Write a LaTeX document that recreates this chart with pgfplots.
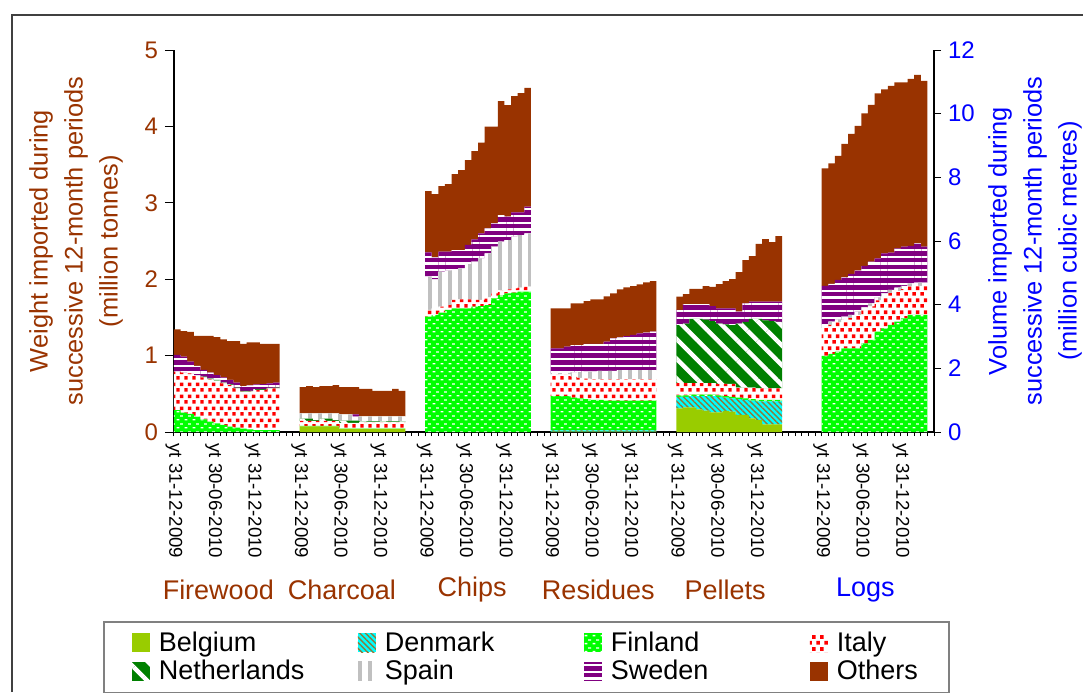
\documentclass[border=0pt]{standalone}
\usepackage{fontspec}
\setmainfont{Liberation Sans}
\usepackage{pgfplots}
\usepackage{pgfplotstable}
\pgfplotsset{compat=1.18}
\usetikzlibrary{patterns, patterns.meta}

\definecolor{cbel}{HTML}{99CC00}
\definecolor{cden}{HTML}{00FFFF}
\definecolor{cdenl}{HTML}{8C7A3A}
\definecolor{cfin}{HTML}{00FF00}
\definecolor{cita}{HTML}{FF0000}
\definecolor{cnet}{HTML}{008000}
\definecolor{cspa}{HTML}{C0C0C0}
\definecolor{cswe}{HTML}{800080}
\definecolor{coth}{HTML}{993300}
\definecolor{cblue}{HTML}{0000FF}

\pgfdeclarepatternformonly{finbricks}{\pgfpointorigin}{\pgfqpoint{4pt}{4pt}}{\pgfqpoint{4pt}{4pt}}{%
  \pgfpathrectangle{\pgfqpoint{0.3pt}{0.4pt}}{\pgfqpoint{1.6pt}{0.7pt}}%
  \pgfpathrectangle{\pgfqpoint{2.3pt}{2.4pt}}{\pgfqpoint{1.6pt}{0.7pt}}%
  \pgfusepath{fill}}
\pgfdeclarepatternformonly{itasquares}{\pgfpointorigin}{\pgfqpoint{4pt}{6pt}}{\pgfqpoint{4pt}{6pt}}{%
  \pgfpathrectangle{\pgfqpoint{0.2pt}{0.2pt}}{\pgfqpoint{1.9pt}{1.9pt}}%
  \pgfpathrectangle{\pgfqpoint{2.2pt}{3.2pt}}{\pgfqpoint{1.9pt}{1.9pt}}%
  \pgfusepath{fill}}

\pgfplotsset{
  sbel/.style={fill=cbel, draw=none},
  sden/.style={fill=cden, draw=none, postaction={pattern={Lines[angle=-45,distance=2pt,line width=0.7pt]}, pattern color=cdenl}},
  sfin/.style={fill=cfin, draw=none, postaction={pattern=finbricks, pattern color=white}},
  sita/.style={fill=white, draw=none, postaction={pattern=itasquares, pattern color=cita}},
  snet/.style={fill=cnet, draw=none, postaction={pattern={Lines[angle=-45,distance=7pt,line width=2.2pt]}, pattern color=white}},
  sspa/.style={fill=white, draw=none, postaction={pattern={Lines[angle=90,distance=5pt,line width=1.7pt]}, pattern color=cspa}},
  sswe/.style={fill=cswe, draw=none, postaction={pattern={Lines[angle=0,distance=3.4pt,line width=1.1pt]}, pattern color=white}},
  soth/.style={fill=coth, draw=none},
}

% weight, million tonnes: Firewood, Charcoal, Chips, Residues, Pellets
\pgfplotstableread{
x    bel   den   fin   ita   net   spa   swe   oth
0.5  0     0     0.288 0.502 0     0     0.218 0.336
1.5  0     0     0.253 0.524 0     0     0.209 0.336
2.5  0     0     0.236 0.532 0     0     0.153 0.388
3.5  0     0     0.201 0.541 0     0     0.122 0.393
4.5  0     0     0.166 0.549 0.01  0     0.087 0.445
5.5  0     0     0.135 0.554 0.01  0     0.078 0.480
6.5  0     0     0.113 0.559 0.01  0     0.064 0.497
7.5  0     0     0.092 0.545 0.01  0     0.068 0.498
8.5  0     0     0.070 0.545 0.01  0     0.056 0.510
9.5  0     0     0.057 0.515 0.01  0     0.064 0.545
10.5 0     0     0.044 0.484 0.01  0     0.064 0.550
11.5 0     0     0.035 0.493 0.01  0     0.073 0.563
12.5 0     0     0.026 0.524 0.01  0     0.064 0.550
13.5 0     0     0.026 0.524 0.01  0     0.068 0.524
14.5 0     0     0.026 0.541 0.01  0     0.060 0.515
15.5 0     0     0.026 0.546 0.01  0     0.064 0.506
19.5 0.075 0     0.005 0.065 0.03  0.069 0     0.345
20.5 0.075 0     0.005 0.065 0.03  0.069 0     0.358
21.5 0.075 0     0.005 0.065 0.01  0.089 0     0.345
22.5 0.075 0     0.005 0.065 0.03  0.069 0     0.358
23.5 0.075 0     0.005 0.065 0.03  0.069 0     0.358
24.5 0.075 0     0.005 0.065 0.01  0.089 0     0.371
25.5 0.04  0     0.005 0.075 0.03  0.08  0     0.359
26.5 0.04  0     0.005 0.075 0.03  0.08  0     0.359
27.5 0.04  0     0.005 0.075 0.03  0.05  0.03  0.359
28.5 0.04  0     0.005 0.085 0.01  0.065 0     0.358
29.5 0.04  0     0.005 0.085 0.01  0.065 0     0.358
30.5 0.04  0     0.005 0.085 0.01  0.065 0     0.332
31.5 0.04  0     0.005 0.085 0.01  0.065 0     0.332
32.5 0.04  0     0.005 0.085 0.01  0.065 0     0.332
33.5 0.04  0     0.005 0.085 0.01  0.065 0     0.358
34.5 0.04  0     0.005 0.085 0.01  0.065 0     0.332
38.5 0     0     1.509 0.088 0     0.436 0.319 0.802
39.5 0     0     1.531 0.088 0     0.379 0.288 0.829
40.5 0     0     1.562 0.078 0     0.458 0.262 0.860
41.5 0     0     1.597 0.065 0     0.450 0.248 0.886
42.5 0     0     1.619 0.109 0     0.392 0.262 0.995
43.5 0     0     1.619 0.117 0     0.406 0.240 1.047
44.5 0     0     1.619 0.117 0     0.463 0.249 1.112
45.5 0     0     1.640 0.088 0     0.501 0.293 1.156
46.5 0     0     1.649 0.079 0     0.545 0.327 1.187
47.5 0     0     1.662 0.101 0     0.575 0.328 1.330
48.5 0     0     1.750 0.065 0     0.611 0.305 1.265
49.5 0     0     1.793 0.065 0     0.633 0.349 1.492
50.5 0     0     1.815 0.052 0     0.646 0.305 1.462
51.5 0     0     1.824 0.056 0     0.677 0.318 1.523
52.5 0     0     1.837 0.052 0     0.689 0.297 1.562
53.5 0     0     1.837 0.065 0     0.698 0.349 1.554
57.5 0.005 0.015 0.451 0.284 0     0.015 0.325 0.523
58.5 0.005 0.015 0.451 0.284 0     0.015 0.325 0.523
59.5 0.005 0.015 0.451 0.284 0     0.020 0.342 0.501
60.5 0.005 0.015 0.43  0.27  0     0.06  0.358 0.546
61.5 0.005 0.015 0.42  0.27  0     0.075 0.353 0.546
62.5 0.005 0.015 0.41  0.27  0     0.09  0.362 0.562
63.5 0.005 0.015 0.40  0.27  0     0.10  0.362 0.584
64.5 0.005 0.015 0.40  0.27  0     0.11  0.352 0.584
65.5 0.005 0.015 0.39  0.28  0     0.11  0.382 0.594
66.5 0.005 0.015 0.39  0.28  0     0.11  0.426 0.589
67.5 0.005 0.015 0.39  0.28  0     0.12  0.430 0.627
68.5 0.005 0.015 0.39  0.28  0     0.12  0.446 0.637
69.5 0.005 0.015 0.39  0.28  0     0.12  0.460 0.641
70.5 0.005 0.015 0.39  0.28  0     0.12  0.481 0.642
71.5 0.005 0.015 0.39  0.28  0     0.12  0.490 0.659
72.5 0.005 0.015 0.39  0.28  0     0.12  0.503 0.663
76.5 0.310 0.150 0.02  0.16  0.76  0     0.197 0.174
77.5 0.323 0.137 0.02  0.16  0.78  0     0.255 0.131
78.5 0.323 0.147 0.02  0.15  0.84  0     0.195 0.197
79.5 0.297 0.173 0.02  0.15  0.84  0     0.195 0.197
80.5 0.279 0.191 0.02  0.15  0.83  0     0.205 0.236
81.5 0.257 0.213 0.02  0.15  0.81  0     0.199 0.249
82.5 0.257 0.203 0.02  0.15  0.79  0     0.198 0.319
83.5 0.275 0.175 0.02  0.16  0.78  0     0.208 0.358
84.5 0.266 0.174 0.02  0.17  0.77  0     0.218 0.384
85.5 0.223 0.207 0.02  0.13  0.84  0     0.155 0.519
86.5 0.223 0.197 0.02  0.14  0.86  0     0.244 0.567
87.5 0.179 0.231 0.02  0.15  0.90  0     0.226 0.597
88.5 0.157 0.243 0.02  0.15  0.91  0     0.226 0.755
89.5 0.100 0.300 0.02  0.15  0.89  0     0.246 0.820
90.5 0.100 0.300 0.02  0.15  0.88  0     0.256 0.781
91.5 0.100 0.300 0.02  0.15  0.87  0     0.266 0.859
}\weight

% volume, million cubic metres: Logs
\pgfplotstableread{
x     fin   ita   spa  swe   oth
98.5  2.389 0.874 0.1  1.225 3.696
99.5  2.452 0.915 0.1  1.183 3.791
100.5 2.525 0.915 0.1  1.236 3.895
101.5 2.630 0.894 0.1  1.236 4.188
102.5 2.630 0.947 0.1  1.288 4.397
103.5 2.630 1.052 0.1  1.287 4.545
104.5 2.787 1.030 0.1  1.299 4.796
105.5 2.891 1.052 0.1  1.309 4.921
106.5 3.153 0.978 0.1  1.226 5.183
107.5 3.258 0.999 0.1  1.257 5.152
108.5 3.363 0.999 0.1  1.173 5.235
109.5 3.467 0.968 0.1  1.236 5.214
110.5 3.572 0.916 0.1  1.235 5.162
111.5 3.677 0.894 0.1  1.173 5.246
112.5 3.677 0.915 0.1  1.236 5.288
113.5 3.677 0.915 0.1  1.131 5.204
}\volume

\begin{document}
\begin{tikzpicture}
\useasboundingbox (0,0) rectangle (541.5pt,346pt);
\draw[line width=0.6pt, black!75] (6pt,0) -- (6pt,338.5pt) -- (541.5pt,338.5pt);

\begin{axis}[
  name=main,
  at={(87pt,130pt)}, anchor=south west,
  scale only axis, width=380pt, height=191pt,
  xmin=0, xmax=115, ymin=0, ymax=5,
  axis x line*=bottom, axis y line*=left,
  ybar stacked, bar width=1,
  clip=false,
  /pgf/number format/assume math mode=true,
  ytick={0,1,...,5},
  yticklabel style={font=\fontsize{12}{14}\selectfont, text=coth},
  xtick={0,6,12,19,25,31,38,44,50,57,63,69,76,82,88,98,104,110},
  xticklabels={yt 31-12-2009,yt 30-06-2010,yt 31-12-2010,
               yt 31-12-2009,yt 30-06-2010,yt 31-12-2010,
               yt 31-12-2009,yt 30-06-2010,yt 31-12-2010,
               yt 31-12-2009,yt 30-06-2010,yt 31-12-2010,
               yt 31-12-2009,yt 30-06-2010,yt 31-12-2010,
               yt 31-12-2009,yt 30-06-2010,yt 31-12-2010},
  minor xtick={0,1,...,115},
  xticklabel style={rotate=-90, anchor=west, font=\fontsize{9.3}{11}\selectfont, inner sep=1pt},
  tick align=outside,
  major tick length=4.5pt,
  xtick style={/pgfplots/major tick length=2pt, /pgfplots/minor tick length=2pt},
  tick style={black, line width=0.5pt},
  axis line style={black, line width=0.6pt},
  legend columns=4,
  legend image code/.code={\path[#1] (0pt,-4.5pt) rectangle (9pt,5pt);},
  legend style={at={(axis description cs:-0.0934,-0.4948)}, anchor=north west,
    draw=black!50, line width=0.8pt, inner xsep=14pt, inner ysep=3.5pt,
    font=\fontsize{13.5}{15}\selectfont, row sep=0pt,
    nodes={inner sep=1.5pt},
    /tikz/every odd column/.append style={column sep=3pt}},
  legend cell align=left,
]
\addplot[sbel] table[x=x,y=bel]{\weight};
\addplot[sden] table[x=x,y=den]{\weight};
\addplot[sfin] table[x=x,y=fin]{\weight};
\addplot[sita] table[x=x,y=ita]{\weight};
\addplot[snet] table[x=x,y=net]{\weight};
\addplot[sspa] table[x=x,y=spa]{\weight};
\addplot[sswe] table[x=x,y=swe]{\weight};
\addplot[soth] table[x=x,y=oth]{\weight};
\addlegendentry{\makebox[98pt][l]{Belgium}}
\addlegendentry{\makebox[98pt][l]{Denmark}}
\addlegendentry{\makebox[98pt][l]{Finland}}
\addlegendentry{Italy}
\addlegendentry{\makebox[98pt][l]{Netherlands}}
\addlegendentry{\makebox[98pt][l]{Spain}}
\addlegendentry{\makebox[98pt][l]{Sweden}}
\addlegendentry{Others}

\node[rotate=90, align=center, text=coth, font=\fontsize{12.7}{17.5}\selectfont]
  at (axis description cs:-0.129,0.5)
  {Weight imported during\\successive 12-month periods\\(million tonnes)};
\node[text=coth, font=\fontsize{13.5}{15}\selectfont] at (axis cs:6.7,-2.068) {Firewood};
\node[text=coth, font=\fontsize{13.5}{15}\selectfont] at (axis cs:25.4,-2.068) {Charcoal};
\node[text=coth, font=\fontsize{13.5}{15}\selectfont] at (axis cs:45.1,-2.068) {Chips};
\node[text=coth, font=\fontsize{13.5}{15}\selectfont] at (axis cs:64.2,-2.068) {Residues};
\node[text=coth, font=\fontsize{13.5}{15}\selectfont] at (axis cs:83.4,-2.068) {Pellets};
\node[text=cblue, font=\fontsize{13.5}{15}\selectfont] at (axis cs:104.6,-2.068) {Logs};
\end{axis}

\begin{axis}[
  at={(87pt,130pt)}, anchor=south west,
  scale only axis, width=380pt, height=191pt,
  xmin=0, xmax=115, ymin=0, ymax=12,
  axis x line=none, axis y line*=right,
  ybar stacked, bar width=1,
  clip=false,
  /pgf/number format/assume math mode=true,
  ytick={0,2,...,12},
  yticklabel style={font=\fontsize{12}{14}\selectfont, text=cblue},
  tick align=outside, major tick length=3.5pt,
  tick style={black, line width=0.5pt},
  axis line style={black, line width=0.6pt},
]
\addplot[sfin] table[x=x,y=fin]{\volume};
\addplot[sita] table[x=x,y=ita]{\volume};
\addplot[sspa] table[x=x,y=spa]{\volume};
\addplot[sswe] table[x=x,y=swe]{\volume};
\addplot[soth] table[x=x,y=oth]{\volume};
\node[rotate=90, align=center, text=cblue, font=\fontsize{12.7}{17.5}\selectfont]
  at (axis description cs:1.133,0.5)
  {Volume imported during\\successive 12-month periods\\(million cubic metres)};
\end{axis}
\end{tikzpicture}
\end{document}
